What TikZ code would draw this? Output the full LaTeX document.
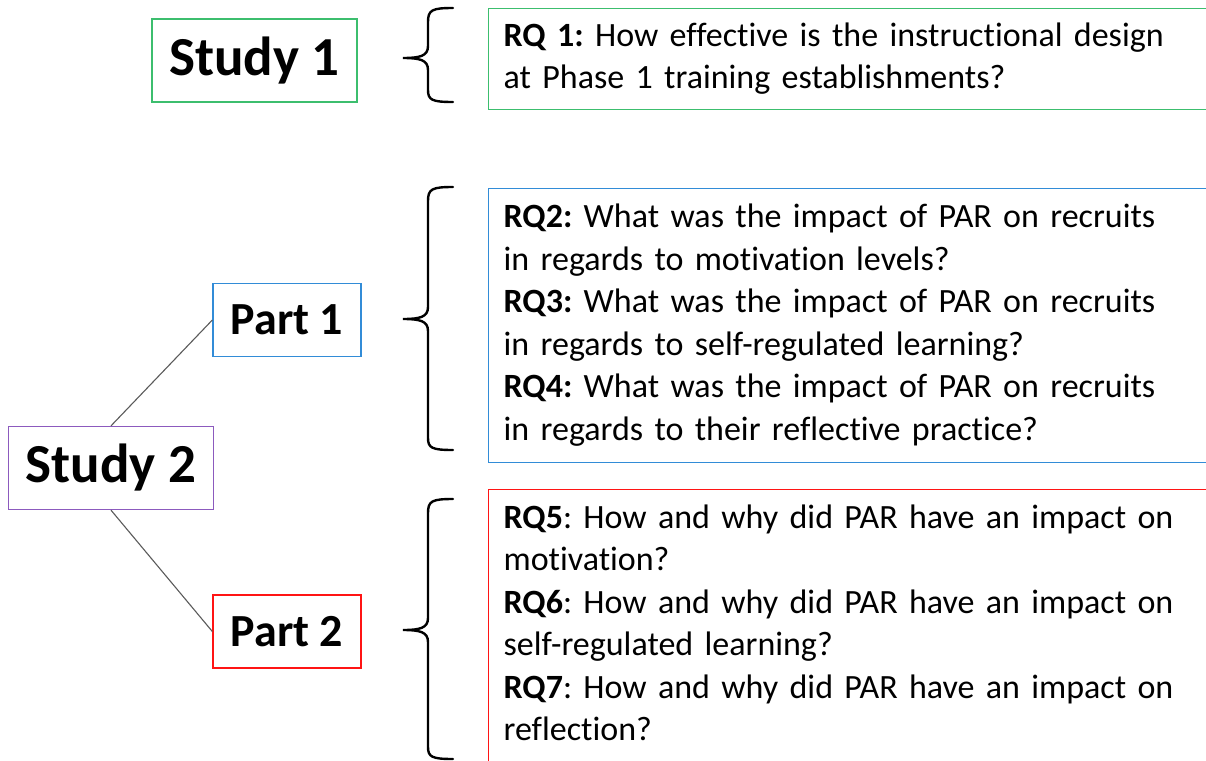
\documentclass[tikz,border=0pt]{standalone}
\usepackage{fontspec}
\setmainfont{Carlito}[Ligatures=NoCommon]
\frenchspacing
\definecolor{cgreen}{RGB}{60,190,110}
\definecolor{cblue}{RGB}{50,140,215}
\definecolor{cred}{RGB}{255,20,20}
\definecolor{cpurple}{RGB}{140,90,190}
\definecolor{cline}{RGB}{90,90,90}
\begin{document}
\begin{tikzpicture}[x=1pt,y=-1pt,
  studybox/.style={draw,line width=1.3pt,minimum width=205pt,minimum height=83pt,inner sep=0pt,font=\fontsize{55}{60}\selectfont\bfseries},
  partbox/.style={draw,line width=1.3pt,minimum width=148pt,minimum height=73pt,inner sep=0pt,font=\fontsize{46}{50}\selectfont\bfseries},
  rqbox/.style={draw,line width=1.3pt,anchor=north west,minimum width=760pt,inner xsep=14pt,inner ysep=9.5pt,align=left,text width=730pt,font=\fontsize{34}{42.5}\selectfont},
  conn/.style={draw=cline,line width=1.1pt},
  brc/.style={draw=black,line width=2.4pt,line cap=round}]
\useasboundingbox (0,0) rectangle (1206,760);
\clip (0,0) rectangle (1206,760);
\node[studybox,draw=cgreen] (s1) at (254.5,60.5) {Study 1};
\node[studybox,draw=cpurple] (s2) at (111,468) {Study 2};
\node[partbox,draw=cblue] (p1) at (287,320) {Part 1};
\node[partbox,draw=cred] (p2) at (287,631.5) {Part 2};
\draw[conn] (s2.north) -- (p1.west);
\draw[conn] (s2.south) -- (p2.west);
\node[rqbox,draw=cgreen,inner ysep=8pt] (rq1) at (488,8) {\strut\textbf{RQ 1:} How effective is the instructional design\\at Phase 1 training establishments?\strut};
\node[rqbox,draw=cblue] (rq2) at (488,188) {\strut\textbf{RQ2:} What was the impact of PAR on recruits\\in regards to motivation levels?\\\textbf{RQ3:} What was the impact of PAR on recruits\\in regards to self-regulated learning?\\\textbf{RQ4:} What was the impact of PAR on recruits\\in regards to their reflective practice?\strut};
\node[rqbox,draw=cred] (rq3) at (488,488.5) {\strut\textbf{RQ5}: How and why did PAR have an impact on\\motivation?\\\textbf{RQ6}: How and why did PAR have an impact on\\self-regulated learning?\\\textbf{RQ7}: How and why did PAR have an impact on\\reflection?\strut};
% braces
\coordinate (b1t) at (453,8);
\coordinate (b1m) at (403,58);
\coordinate (b1b) at (453,102);
\draw[brc] (b1t) .. controls (432,8) and (428,10) .. (428,22) -- (428,46) .. controls (428,56) and (420,58) .. (b1m) .. controls (420,58) and (428,60) .. (428,70) -- (428,90) .. controls (428,100) and (432,102) .. (b1b);
\coordinate (b2t) at (453,187);
\coordinate (b2m) at (403,319);
\coordinate (b2b) at (453,450);
\draw[brc] (b2t) .. controls (432,187) and (428,189) .. (428,201) -- (428,307) .. controls (428,317) and (420,319) .. (b2m) .. controls (420,319) and (428,321) .. (428,331) -- (428,438) .. controls (428,448) and (432,450) .. (b2b);
\coordinate (b3t) at (453,499);
\coordinate (b3m) at (403,630);
\coordinate (b3b) at (453,759);
\draw[brc] (b3t) .. controls (432,499) and (428,501) .. (428,513) -- (428,618) .. controls (428,628) and (420,630) .. (b3m) .. controls (420,630) and (428,632) .. (428,642) -- (428,747) .. controls (428,757) and (432,759) .. (b3b);
\end{tikzpicture}
\end{document}
